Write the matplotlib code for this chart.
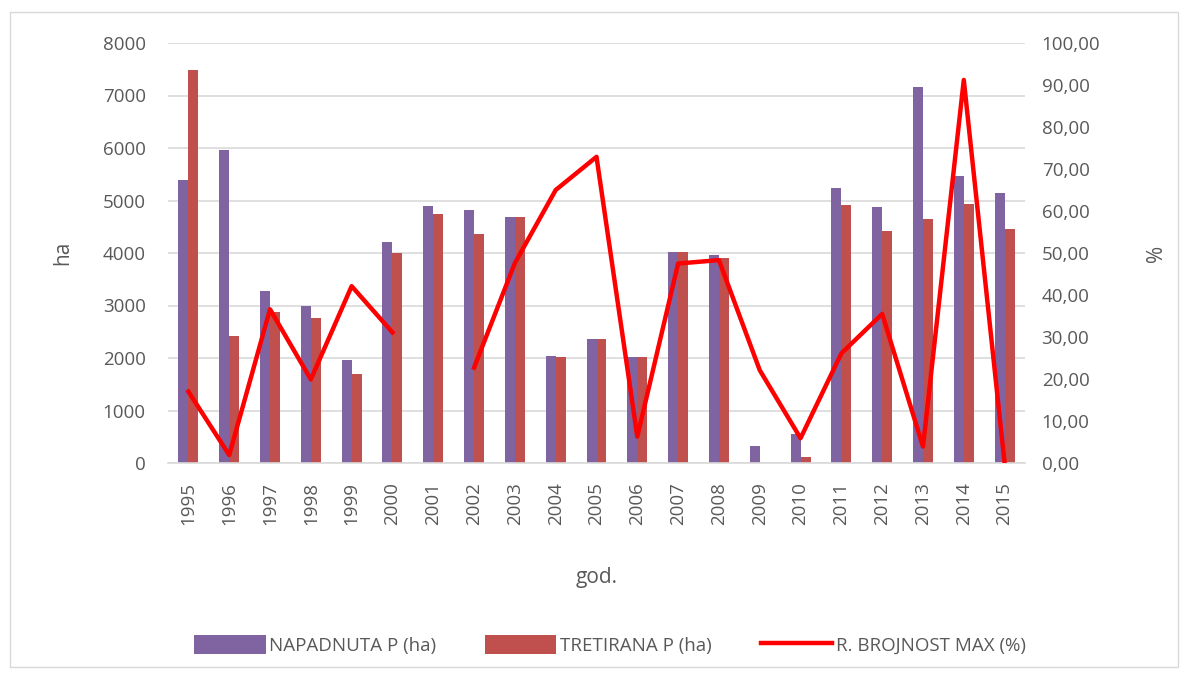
import numpy as np
import matplotlib.pyplot as plt
from matplotlib.patches import Rectangle
from matplotlib.ticker import FuncFormatter

years = [str(y) for y in range(1995, 2016)]
napadnuta = [5400, 5960, 3280, 2990, 1960, 4210, 4890, 4810, 4690, 2040, 2370,
             2010, 4010, 3970, 320, 560, 5230, 4880, 7170, 5460, 5150]
tretirana = [7480, 2420, 2880, 2760, 1700, 4000, 4740, 4360, 4680, 2020, 2370,
             2010, 4010, 3900, 0, 120, 4910, 4420, 4640, 4930, 4460]
brojnost = [17.0, 1.9, 36.6, 19.9, 42.1, 31.1, np.nan, 22.7, 47.6, 65.0, 72.9,
            6.3, 47.5, 48.3, 22.1, 5.9, 26.1, 35.5, 3.9, 91.2, 0.0]

purple = '#8064A2'
red = '#C0504D'
grey = '#595959'
plt.rcParams['font.family'] = ['Open Sans', 'DejaVu Sans']

fig = plt.figure(figsize=(11.9, 6.75), dpi=100)
ax = fig.add_axes([168 / 1190, 1 - 463 / 675, (1025 - 168) / 1190, 420 / 675])
fig.patches.append(Rectangle((10 / 1190, 8 / 675), 1168 / 1190, 655 / 675,
                             transform=fig.transFigure, fill=False,
                             edgecolor='#D9D9D9', linewidth=1))

x = np.arange(len(years))
w = 0.245
ax.bar(x - w / 2, napadnuta, w, color=purple, label='NAPADNUTA P (ha)', zorder=2)
ax.bar(x + w / 2, tretirana, w, color=red, label='TRETIRANA P (ha)', zorder=2)
ax.set_xlim(-0.5, len(years) - 0.5)
ax.set_ylim(0, 8000)
ax.set_yticks(range(0, 8001, 1000))
ax.grid(axis='y', color='#D9D9D9', linewidth=1.2, zorder=0)
ax.set_axisbelow(True)
for s in ['top', 'right', 'left']:
    ax.spines[s].set_visible(False)
ax.spines['bottom'].set_color('#D9D9D9')
ax.spines['bottom'].set_linewidth(1.2)
ax.tick_params(axis='both', length=0, labelsize=13.5, labelcolor=grey, pad=16)
ax.set_xticks(x)
ax.set_xticklabels(years, rotation=90)
ax.tick_params(axis='x', pad=14)
ax.set_ylabel('ha', fontsize=15, color=grey, labelpad=21)
ax.set_xlabel('god.', fontsize=15, color=grey, labelpad=30)

ax2 = ax.twinx()
ax2.plot(x, brojnost, color='#FF0000', linewidth=3.2, label='R. BROJNOST MAX (%)',
         solid_joinstyle='round', zorder=3)
ax2.set_ylim(0, 100)
ax2.set_yticks(range(0, 101, 10))
ax2.yaxis.set_major_formatter(FuncFormatter(lambda v, p: f'{v:.2f}'.replace('.', ',')))
for s in ['top', 'right', 'left', 'bottom']:
    ax2.spines[s].set_visible(False)
ax2.tick_params(axis='y', length=0, labelsize=13.5, labelcolor=grey, pad=12)
ax2.set_ylabel('%', fontsize=15, color=grey, labelpad=33)

h1, l1 = ax.get_legend_handles_labels()
h2, l2 = ax2.get_legend_handles_labels()
fig.legend(h1 + h2, l1 + l2, loc='center', bbox_to_anchor=(610 / 1190, 1 - 645 / 675),
           ncol=3, frameon=False, fontsize=13.5, labelcolor=grey,
           handlelength=3.8, handleheight=1.2, columnspacing=2.6, handletextpad=0.2)

fig.savefig('out.png', dpi=100)
